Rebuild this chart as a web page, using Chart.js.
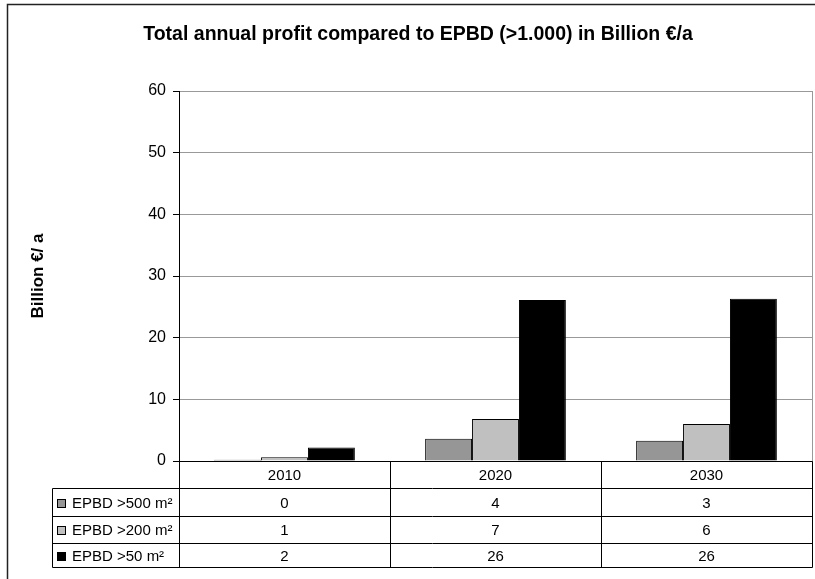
<!DOCTYPE html>
<html>
<head>
<meta charset="utf-8">
<script src="https://cdn.jsdelivr.net/npm/chart.js@4/dist/chart.umd.min.js"></script>
<style>
html,body{margin:0;padding:0;background:#fff;}
canvas{display:block;}
</style>
</head>
<body>
<canvas id="c" width="815" height="579"></canvas>
<script>
const chartTitle = 'Total annual profit compared to EPBD (>1.000) in Billion €/a';
const yTitle = 'Billion €/ a';
const categories = ['2010', '2020', '2030'];
const seriesNames = ['EPBD >500 m²', 'EPBD >200 m²', 'EPBD >50 m²'];
const epbd500 = [0.2, 3.6, 3.3];
const epbd200 = [0.6, 6.8, 6.0];
const epbd50 = [2.2, 26.1, 26.3];
const yTicks = [0, 10, 20, 30, 40, 50, 60];
const colors = ['#969696', '#C0C0C0', '#000000'];
const seriesValues = [epbd500, epbd200, epbd50];

const FONT = 'Liberation Sans, Arial, Helvetica, sans-serif';

const tablePlugin = {
  id: 'tablePlugin',
  afterDraw(chart) {
    const ctx = chart.ctx;
    const x = chart.scales.x;
    const ca = chart.chartArea;
    const catW = (x.getPixelForValue(1) - x.getPixelForValue(0));
    const bounds = [];
    for (let i = 0; i <= categories.length; i++) {
      bounds.push(Math.round(x.getPixelForValue(0) - catW / 2 + i * catW) + 0.5);
    }
    const top = Math.round(ca.bottom) + 0.5;
    const rowH = [27, 28, 27, 24];
    const rows = [top];
    for (const h of rowH) rows.push(rows[rows.length - 1] + h);
    const legendLeft = 52.5;

    ctx.save();
    ctx.strokeStyle = '#999';
    ctx.lineWidth = 1;
    ctx.beginPath();
    ctx.moveTo(bounds[bounds.length - 1], ca.top);
    ctx.lineTo(bounds[bounds.length - 1], top);
    ctx.stroke();

    ctx.strokeStyle = '#000';
    ctx.beginPath();
    for (let i = 1; i < rows.length; i++) {
      ctx.moveTo(legendLeft, rows[i]);
      ctx.lineTo(bounds[bounds.length - 1], rows[i]);
    }
    for (const b of bounds) {
      ctx.moveTo(b, top);
      ctx.lineTo(b, rows[rows.length - 1]);
    }
    ctx.moveTo(legendLeft, rows[1]);
    ctx.lineTo(legendLeft, rows[rows.length - 1]);
    ctx.stroke();

    ctx.fillStyle = '#000';
    ctx.font = '15px ' + FONT;
    ctx.textAlign = 'center';
    ctx.textBaseline = 'middle';
    categories.forEach((c, i) => {
      ctx.fillText(c, x.getPixelForValue(i), (rows[0] + rows[1]) / 2 + 1);
    });
    seriesValues.forEach((vals, r) => {
      const cy = (rows[r + 1] + rows[r + 2]) / 2 + 1;
      ctx.textAlign = 'center';
      vals.forEach((v, i) => {
        ctx.fillText(String(Math.round(v)), x.getPixelForValue(i), cy);
      });
      ctx.fillStyle = colors[r];
      ctx.fillRect(57.5, Math.round(cy - 5) + 0.5, 8, 8);
      ctx.strokeStyle = '#000';
      ctx.strokeRect(57.5, Math.round(cy - 5) + 0.5, 8, 8);
      ctx.fillStyle = '#000';
      ctx.textAlign = 'left';
      ctx.fillText(seriesNames[r], 72, cy);
    });

    ctx.font = 'bold 19.5px ' + FONT;
    ctx.textAlign = 'center';
    ctx.textBaseline = 'alphabetic';
    ctx.fillText(chartTitle, 418, 40);

    ctx.strokeStyle = '#222';
    ctx.lineWidth = 1.5;
    ctx.beginPath();
    ctx.moveTo(7.5, 579);
    ctx.lineTo(7.5, 4.5);
    ctx.lineTo(815, 4.5);
    ctx.stroke();
    ctx.restore();
  }
};

new Chart(document.getElementById('c'), {
  type: 'bar',
  data: {
    labels: categories,
    datasets: seriesNames.map((n, i) => ({
      label: n,
      data: seriesValues[i],
      backgroundColor: colors[i],
      borderColor: '#000',
      borderWidth: 1,
      borderSkipped: 'bottom',
      categoryPercentage: 0.667,
      barPercentage: 1.0
    }))
  },
  options: {
    responsive: false,
    animation: false,
    devicePixelRatio: 1,
    layout: { padding: { top: 91, right: 3, left: 0, bottom: 0 } },
    plugins: { legend: { display: false }, title: { display: false }, tooltip: { enabled: false } },
    scales: {
      x: {
        ticks: { display: false },
        grid: { display: false },
        border: { display: true, color: '#000', width: 1 },
        afterFit(s) { s.height = 118; }
      },
      y: {
        min: 0, max: 60,
        afterBuildTicks(s) { s.ticks = yTicks.map(v => ({ value: v })); },
        ticks: { color: '#000', font: { family: FONT, size: 16 }, padding: 7 },
        grid: { color: '#999', tickColor: '#000', tickLength: 6, lineWidth: 1 },
        border: { display: true, color: '#000', width: 1 },
        title: {
          display: true, text: yTitle, color: '#000',
          font: { family: FONT, size: 17, weight: 'bold' },
          padding: { top: 28, bottom: 0 }
        },
        afterFit(s) { s.width = 179; }
      }
    }
  },
  plugins: [tablePlugin]
});
</script>
</body>
</html>
